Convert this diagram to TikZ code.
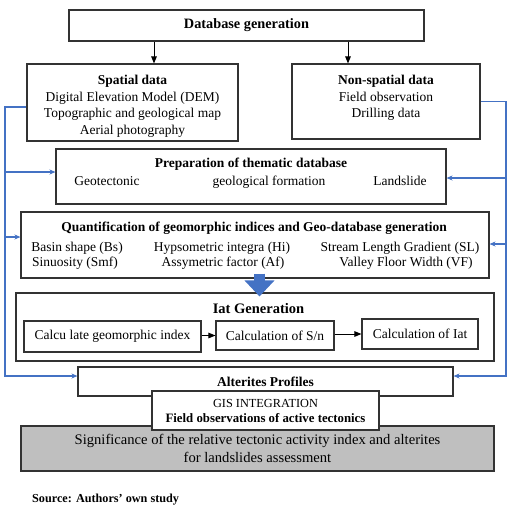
\documentclass[tikz,border=0pt]{standalone}
\usepackage{fontspec}
\setmainfont{Liberation Serif}
\usetikzlibrary{arrows.meta}
\definecolor{flowblue}{RGB}{68,114,196}
\definecolor{sigfill}{RGB}{191,191,191}
\tikzset{
  box/.style={draw=black!80, line width=1.1pt, fill=white, inner sep=0pt, align=center},
  body/.style={font=\fontsize{13.5}{16.5}\selectfont, inner sep=0pt, align=center},
  head/.style={font=\fontsize{13.5}{16.5}\selectfont\bfseries, inner sep=0pt, align=center},
  feed/.style={draw=flowblue, line width=1.2pt, -{Stealth[length=6pt,width=5pt]}},
  link/.style={draw=black, line width=1pt, -{Triangle[length=7pt,width=5.5pt]}},
  fat/.style={draw=flowblue, line width=11pt, -{Triangle[width=29pt,length=16pt]}},
}
\begin{document}
\begin{tikzpicture}[x=1pt,y=-1pt]
\useasboundingbox (0,0) rectangle (514,512);
% database
\node[box,head,font=\fontsize{14.3}{17}\selectfont\bfseries,minimum width=355pt,minimum height=31pt] (db) at (246.5,25.5) {Database generation};
\node[box,minimum width=211pt,minimum height=77pt] (spat) at (132.5,102.5) {};
\node[body,anchor=north] (spattxt) at (132.5,75) {\textbf{Spatial data}\\Digital Elevation Model (DEM)\\Topographic and geological map\\Aerial photography};
\node[box,minimum width=188pt,minimum height=75pt] (nonsp) at (386,101.5) {};
\node[body,anchor=north] (nonsptxt) at (386,75) {\textbf{Non-spatial data}\\Field observation\\Drilling data};
\coordinate (spatin) at ([xshift=21.5pt]spat.north);
\coordinate (nonspin) at ([xshift=-38pt]nonsp.north);
\draw[link] (db.south -| spatin) -- (spatin);
\draw[link] (db.south -| nonspin) -- (nonspin);
% thematic database
\node[box,minimum width=390pt,minimum height=55pt] (prep) at (251,176.5) {};
\node[head,anchor=base] (preptitle) at (251,167) {Preparation of thematic database};
\node[body,anchor=base] (geotec) at (107,185) {Geotectonic};
\node[body,anchor=base] (geoform) at (269,185) {geological formation};
\node[body,anchor=base] (lslide) at (400,185) {Landslide};
% geomorphic indices
\node[box,minimum width=468pt,minimum height=66pt] (quant) at (255,245) {};
\node[head,anchor=base] (quanttitle) at (254,231) {Quantification of geomorphic indices and Geo-database generation};
\node[body,anchor=base] (bs) at (77,251) {Basin shape (Bs)};
\node[body,anchor=base] (hi) at (222,251) {Hypsometric integra (Hi)};
\node[body,anchor=base] (sl) at (400,251) {Stream Length Gradient (SL)};
\node[body,anchor=base] (smf) at (75,266.5) {Sinuosity (Smf)};
\node[body,anchor=base] (af) at (223,266.5) {Assymetric factor (Af)};
\node[body,anchor=base] (vf) at (406,266.5) {Valley Floor Width (VF)};
% Iat
\node[box,minimum width=478pt,minimum height=68pt] (iat) at (255,327) {};
\node[head,anchor=base,font=\fontsize{14.5}{17}\selectfont\bfseries] (iattitle) at (258.5,313) {Iat Generation};
\node[box,body,minimum width=177pt,minimum height=31pt] (calcgi) at (112.5,336.5) {Calcu late geomorphic index};
\node[box,body,minimum width=118pt,minimum height=29pt] (calcsn) at (275,335.5) {Calculation of S/n};
\node[box,body,minimum width=116pt,minimum height=30pt] (calciat) at (420,334) {Calculation of Iat};
\draw[link] (calcgi.east |- calcsn.west) -- (calcsn.west);
\draw[link] (calcsn.east |- calciat.west) -- (calciat.west);
\draw[fat] ([xshift=4.5pt,yshift=5pt]quant.south) -- ([xshift=4.5pt,yshift=-4pt]iat.north);
% result
\node[box,fill=sigfill,font=\fontsize{14.6}{18}\selectfont,minimum width=473pt,minimum height=45pt] (signif) at (257.5,448.5)
  {Significance of the relative tectonic activity index and alterites\\for landslides assessment};
\node[box,head,minimum width=375pt,minimum height=29pt] (alt) at (265.5,381.5) {Alterites Profiles};
\node[box,minimum width=227pt,minimum height=39pt,font=\fontsize{12.3}{15}\selectfont] (gis) at (265.5,410.5)
  {GIS INTEGRATION\\\fontsize{12.8}{15}\selectfont\bfseries Field observations of active tectonics};
% blue feeds
\coordinate (lend) at (5,376);
\coordinate (rend) at (506,376);
\coordinate (lprep) at (5,172);
\coordinate (lquant) at (5,237);
\coordinate (rprep) at (506,178);
\coordinate (rquant) at (506,244);
\draw[feed] ([yshift=-4.5pt]spat.west) -| (lend) -- (lend -| alt.west);
\draw[feed] (nonsp.east) -| (rend) -- (rend -| alt.east);
\draw[feed] (lprep) -- (lprep -| prep.west);
\draw[feed] (lquant) -- (lquant -| quant.west);
\draw[feed] (rprep) -- (rprep -| prep.east);
\draw[feed] (rquant) -- (rquant -| quant.east);
\node[anchor=west,inner sep=0pt,font=\fontsize{12.2}{14}\selectfont\bfseries] (src) at (32,500) {Source: Authors’ own study};
\end{tikzpicture}
\end{document}
